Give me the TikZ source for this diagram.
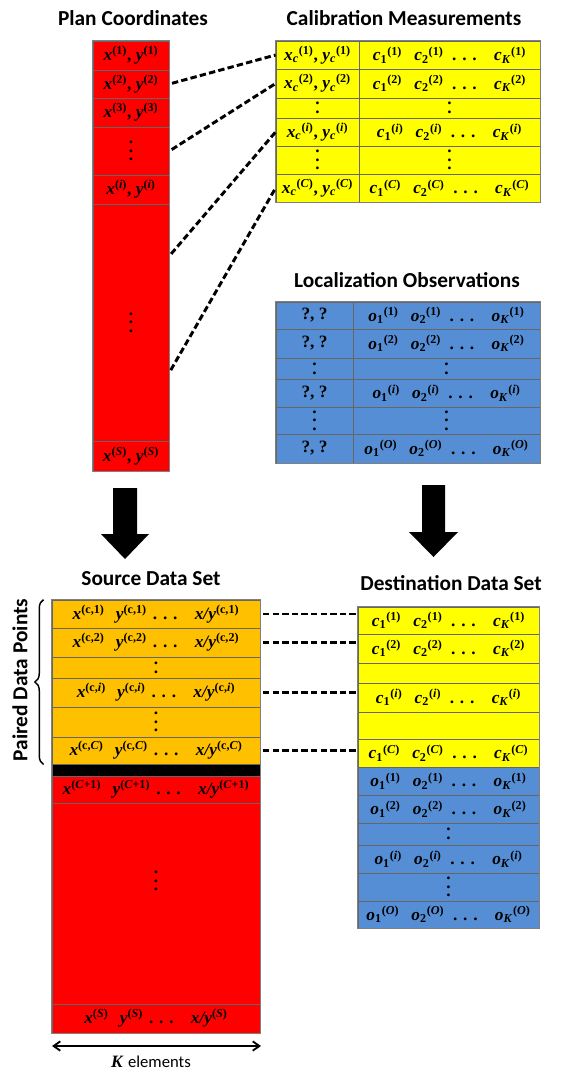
\documentclass[tikz,border=0pt]{standalone}
\usepackage{fontspec}
\setmainfont{Liberation Serif}
\newfontfamily\headfont{Carlito}
\usetikzlibrary{arrows.meta, fit, calc, decorations.pathreplacing}

\definecolor{calyellow}{HTML}{FFFF00}
\definecolor{locblue}{HTML}{558ED5}
\definecolor{srcorange}{HTML}{FFC000}
\definecolor{planred}{HTML}{FF0000}

\newcommand{\cellfont}{\fontsize{13}{15}\selectfont\bfseries}
\newcommand{\titlefont}{\headfont\bfseries\fontsize{16}{19}\selectfont}
\newcommand{\va}[2]{\textit{#1}\textsuperscript{#2}}
\newcommand{\vb}[3]{\textit{#1}\textsubscript{#2}\textsuperscript{#3}}
\newcommand{\twodts}{\vbox{\baselineskip=6.5pt\lineskiplimit=0pt\hbox{.}\hbox{.}}}
\newcommand{\threedts}{\vbox{\baselineskip=6.5pt\lineskiplimit=0pt\hbox{.}\hbox{.}\hbox{.}}}
\newcommand{\crow}[2]{\vb{#1}{1}{#2}\hspace{0.7em}\vb{#1}{2}{#2}\hspace{0.5em}. . .\hspace{1em}\vb{#1}{\textit{K}}{#2}}
\newcommand{\srow}[1]{\va{x}{#1}\hspace{0.65em}\va{y}{#1}\hspace{0.35em}. . .\hspace{1em}\va{x/y}{#1}}

\tikzset{
  cell/.style={draw=black!60, line width=0.6pt, inner sep=0pt},
  celltext/.style={font=\cellfont, inner sep=0pt},
  outline/.style={draw=gray, line width=0.9pt},
  title/.style={anchor=base, font=\titlefont},
  link/.style={line width=2.2pt, dash pattern=on 4.8pt off 2.4pt, shorten <=2pt},
  bigarrow/.style={fill=black}
}

\begin{document}
\begin{tikzpicture}[x=0.75pt, y=-0.75pt]
  \useasboundingbox (0,0) rectangle (581,1076);
  % --- titles ---
  \node[title] (tplan) at (133,25) {Plan Coordinates};
  \node[title] (tcal) at (404,25) {Calibration Measurements};
  \node[title] (tloc) at (407,287) {Localization Observations};
  \node[title] (tsrc) at (151,585) {Source Data Set};
  \node[title] (tdst) at (451,590) {Destination Data Set};
  % --- plan coordinates column ---
  \foreach \i/\ya/\yb/\t in {
      1/41/70/{\va{x}{(1)}, \va{y}{(1)}},
      2/70/98/{\va{x}{(2)}, \va{y}{(2)}},
      3/98/127/{\va{x}{(3)}, \va{y}{(3)}},
      4/127/175/{\threedts},
      5/175/204/{\va{x}{(\textit{i})}, \va{y}{(\textit{i})}},
      6/204/441/{\threedts},
      7/441/471/{\va{x}{(\textit{S})}, \va{y}{(\textit{S})}}}
    {\node[cell, fill=planred, fit={(93,\ya) (169,\yb)}] (p\i) {};
     \node[celltext] (pt\i) at (p\i.center) {\t};}
  \draw[outline] (p1.north west) rectangle (p7.south east);
  % --- calibration measurements ---
  \foreach \i/\ya/\yb/\l/\r in {
      1/41/69/{\vb{x}{\textit{c}}{(1)}, \vb{y}{\textit{c}}{(1)}}/{\crow{c}{(1)}},
      2/69/98/{\vb{x}{\textit{c}}{(2)}, \vb{y}{\textit{c}}{(2)}}/{\crow{c}{(2)}},
      3/98/118/{\twodts}/{\twodts},
      4/118/146/{\vb{x}{\textit{c}}{(\textit{i})}, \vb{y}{\textit{c}}{(\textit{i})}}/{\crow{c}{(\textit{i})}},
      5/146/174/{\threedts}/{\threedts},
      6/174/202/{\vb{x}{\textit{c}}{(\textit{C})}, \vb{y}{\textit{c}}{(\textit{C})}}/{\crow{c}{(\textit{C})}}}
    {\node[cell, fill=calyellow, fit={(276,\ya) (359,\yb)}] (c\i) {};
     \node[cell, fill=calyellow, fit={(359,\ya) (540,\yb)}] (cv\i) {};
     \node[celltext] (ct\i) at (c\i.center) {\l};
     \node[celltext] (cvt\i) at (cv\i.center) {\r};}
  \draw[outline] (c1.north west) rectangle (cv6.south east);
  % --- localization observations ---
  \foreach \i/\ya/\yb/\l/\r in {
      1/302/329/{?, ?}/{\crow{o}{(1)}},
      2/329/358/{?, ?}/{\crow{o}{(2)}},
      3/358/379/{\twodts}/{\twodts},
      4/379/407/{?, ?}/{\crow{o}{(\textit{i})}},
      5/407/434/{\threedts}/{\threedts},
      6/434/463/{?, ?}/{\crow{o}{(\textit{O})}}}
    {\node[cell, fill=locblue, fit={(276,\ya) (353,\yb)}] (l\i) {};
     \node[cell, fill=locblue, fit={(353,\ya) (540,\yb)}] (lv\i) {};
     \node[celltext] (lt\i) at (l\i.center) {\l};
     \node[celltext] (lvt\i) at (lv\i.center) {\r};}
  \draw[outline] (l1.north west) rectangle (lv6.south east);
  % --- plan rows to calibration rows ---
  \coordinate (q1) at ($(p6.north east)!0.22!(p6.south east)$);
  \coordinate (q2) at ($(p6.north east)!0.71!(p6.south east)$);
  \draw[link] (p2.east) -- (c1.west);
  \draw[link] (p4.east) -- (c2.west);
  \draw[link] (q1) -- (c4.west);
  \draw[link] (q2) -- (c6.west);
  % --- big arrows ---
  \fill[bigarrow] (113,488) -- (137,488) -- (137,534) -- (149,534)
    -- (125,559) -- (101,534) -- (113,534) -- cycle;
  \fill[bigarrow] (422,485) -- (445,485) -- (445,532) -- (458,532)
    -- (433.5,557) -- (409,532) -- (422,532) -- cycle;
  % --- source data set ---
  \foreach \i/\ya/\yb/\t/\c in {
      1/600/628/{\srow{(c,1)}}/srcorange,
      2/628/657/{\srow{(c,2)}}/srcorange,
      3/657/678/{\twodts}/srcorange,
      4/678/707/{\srow{(c,\textit{i})}}/srcorange,
      5/707/737/{\threedts}/srcorange,
      6/737/764/{\srow{(c,\textit{C})}}/srcorange,
      7/776/803/{\srow{(\textit{C}+1)}}/planred,
      8/803/1004/{}/planred,
      9/1004/1033/{\srow{(\textit{S})}}/planred}
    {\node[cell, fill=\c, fit={(52,\ya) (260,\yb)}] (s\i) {};
     \node[celltext] (st\i) at (s\i.center) {\t};}
  \node[cell, fill=black, fit={(52,764) (260,776)}] (band) {};
  \node[celltext] (sdots) at (156,881) {\threedts};
  \draw[outline] (s1.north west) rectangle (s9.south east);
  % --- paired data points brace ---
  \draw[line width=1.1pt, decorate, decoration={brace, amplitude=6.5pt}]
    ($(s6.south west)+(-8,0)$) -- ($(s1.north west)+(-8,0)$);
  \node[font=\titlefont, rotate=90] (paired) at (20,680) {Paired Data Points};
  % --- K elements ---
  \coordinate (k1) at (52,1046);
  \coordinate (k2) at (261,1046);
  \draw[line width=1.4pt, {Straight Barb[length=5pt, width=7pt]}-{Straight Barb[length=5pt, width=7pt]}] (k1) -- (k2);
  \node (klab) at (151,1062) {\fontsize{13}{15}\selectfont\textbf{\textit{K}} \headfont\fontsize{12.5}{15}\selectfont elements};
  % --- destination data set ---
  \foreach \i/\ya/\yb/\t in {
      1/607/634/{\crow{c}{(1)}},
      2/634/663/{\crow{c}{(2)}},
      3/663/683/{},
      4/683/712/{\crow{c}{(\textit{i})}},
      5/712/739/{},
      6/739/767/{\crow{c}{(\textit{C})}}}
    {\node[cell, fill=calyellow, fit={(358,\ya) (539,\yb)}] (d\i) {};
     \node[celltext] (dt\i) at (d\i.center) {\t};}
  \foreach \i/\ya/\yb/\t in {
      1/767/795/{\crow{o}{(1)}},
      2/795/823/{\crow{o}{(2)}},
      3/823/845/{\twodts},
      4/845/873/{\crow{o}{(\textit{i})}},
      5/873/901/{\threedts},
      6/901/928/{\crow{o}{(\textit{O})}}}
    {\node[cell, fill=locblue, fit={(358,\ya) (539,\yb)}] (b\i) {};
     \node[celltext] (bt\i) at (b\i.center) {\t};}
  \draw[outline] (d1.north west) rectangle (b6.south east);
  % --- source rows to destination rows ---
  \foreach \i in {1,2,4,6}
    \draw[link] (s\i.east) -- (s\i.east -| d1.west);
\end{tikzpicture}
\end{document}
